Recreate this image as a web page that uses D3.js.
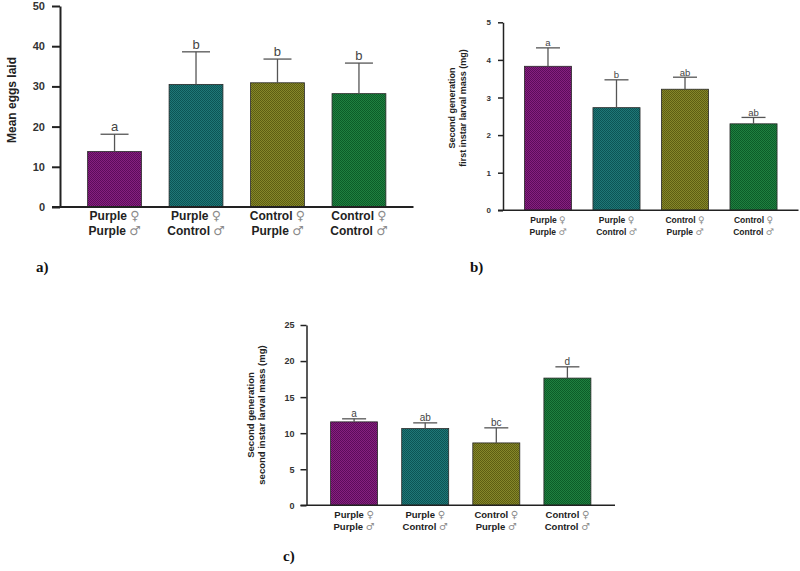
<!DOCTYPE html>
<html><head><meta charset="utf-8">
<script src="https://cdn.jsdelivr.net/npm/d3@7/dist/d3.min.js"></script>
<style>body{margin:0;background:#fff}svg{display:block}</style>
</head><body>
<svg id="c" width="800" height="571"></svg>
<script>
const femaleLabels = ["Purple", "Purple", "Control", "Control"];
const maleLabels = ["Purple", "Control", "Purple", "Control"];
const groups = ["PP", "PC", "CP", "CC"];
const eggsMean = [13.8, 30.5, 30.9, 28.2];
const eggsErr = [4.3, 8.1, 5.9, 7.6];
const eggsLetters = ["a", "b", "b", "b"];
const firstMean = [3.83, 2.73, 3.22, 2.30];
const firstErr = [0.49, 0.74, 0.32, 0.17];
const firstLetters = ["a", "b", "ab", "ab"];
const secondMean = [11.57, 10.64, 8.65, 17.64];
const secondErr = [0.42, 0.79, 2.09, 1.56];
const secondLetters = ["a", "ab", "bc", "d"];
const eggsTicks = [0, 10, 20, 30, 40, 50];
const firstTicks = [0, 1, 2, 3, 4, 5];
const secondTicks = [0, 5, 10, 15, 20, 25];

const colors = [["#86207f","#5c0c5a"],["#1f7777","#0c5454"],["#86872a","#5d5e12"],["#1f8040","#0c5c28"]];

const svg = d3.select("#c");
const defs = svg.append("defs");
colors.forEach((c,i)=>{
  const p = defs.append("pattern").attr("id","pat"+i).attr("width",2).attr("height",2).attr("patternUnits","userSpaceOnUse");
  p.append("rect").attr("width",2).attr("height",2).attr("fill",c[0]);
  p.append("rect").attr("width",1).attr("height",1).attr("fill",c[1]);
  p.append("rect").attr("x",1).attr("y",1).attr("width",1).attr("height",1).attr("fill",c[1]);
});

function panel(o){
  const g = svg.append("g");
  const x = d3.scaleBand().domain(groups).range([o.x0, o.x1]).paddingInner(o.pad).paddingOuter(o.pad);
  const y = d3.scaleLinear().domain([0, o.ticks[o.ticks.length-1]]).range([o.y0, o.y1]);
  g.selectAll("rect.bar").data(o.mean).enter().append("rect")
    .attr("x",(d,i)=>x(groups[i])).attr("width",x.bandwidth())
    .attr("y",d=>y(d)).attr("height",d=>y(0)-y(d))
    .attr("fill",(d,i)=>`url(#pat${i})`).attr("stroke","#2a2a2a").attr("stroke-width",0.8);
  o.mean.forEach((m,i)=>{
    const cx = x(groups[i]) + x.bandwidth()/2;
    const top = y(m + o.err[i]);
    g.append("line").attr("x1",cx).attr("x2",cx).attr("y1",y(m)).attr("y2",top).attr("stroke","#555").attr("stroke-width",1.3);
    g.append("line").attr("x1",cx-o.cap/2).attr("x2",cx+o.cap/2).attr("y1",top).attr("y2",top).attr("stroke","#555").attr("stroke-width",1.3);
    g.append("text").attr("x",cx).attr("y",top-o.letterGap).attr("text-anchor","middle")
      .attr("font-family","Liberation Sans, Arial, sans-serif").attr("font-size",o.letterSize).attr("fill","#444").text(o.letters[i]);
  });
  const ax = g.append("g").attr("transform",`translate(${o.x0},0)`)
    .call(d3.axisLeft(y).tickValues(o.ticks).tickFormat(d3.format("d")).tickSize(o.tick).tickPadding(o.tickPad).tickSizeOuter(0));
  ax.select(".domain").attr("stroke","#222").attr("stroke-width",o.axisW);
  ax.selectAll(".tick line").attr("stroke","#222").attr("stroke-width",o.axisW);
  ax.selectAll(".tick text").attr("font-family","Liberation Sans, Arial, sans-serif").attr("font-weight","bold")
    .attr("font-size",o.tickSize).attr("fill","#333");
  g.append("line").attr("x1",o.x0-o.tick).attr("x2",o.x1).attr("y1",y(0)).attr("y2",y(0)).attr("stroke","#222").attr("stroke-width",o.axisW);
  groups.forEach((gr,i)=>{
    const cx = x(gr) + x.bandwidth()/2;
    [[femaleLabels[i],"\u2640",o.lab1],[maleLabels[i],"\u2642",o.lab2]].forEach(([w,s,yy])=>{
      const t = g.append("text").attr("x",cx).attr("y",yy).attr("text-anchor","middle")
        .attr("font-family","Liberation Sans, Arial, sans-serif").attr("font-size",o.labSize).attr("fill","#222");
      t.append("tspan").attr("font-weight","bold").text(w+" ");
      t.append("tspan").attr("fill","#8a8a8a").attr("font-family","DejaVu Sans, sans-serif").attr("font-size",o.labSize*1.05).text(s);
    });
  });
  const yl = g.append("text").attr("transform",`translate(${o.ylx},${o.yly}) rotate(-90)`).attr("text-anchor","middle")
    .attr("font-family","Liberation Sans, Arial, sans-serif").attr("font-size",o.ylSize).attr("font-weight","bold").attr("fill","#222");
  o.ylab.forEach((l,k)=>yl.append("tspan").attr("x",0).attr("dy",k===0?0:o.ylSize*1.2).text(l));
  g.append("text").attr("x",o.px).attr("y",o.py).attr("font-family","Liberation Serif, Times New Roman, serif")
    .attr("font-weight","bold").attr("font-size",15).attr("fill","#111").text(o.plabel);
}

panel({x0:60,x1:413.5,pad:0.339,y0:207,y1:6,ticks:eggsTicks,mean:eggsMean,err:eggsErr,letters:eggsLetters,
  cap:28,letterGap:3,letterSize:13,tick:8,tickPad:7,axisW:2,tickSize:11,lab1:220,lab2:235,labSize:12,
  ylab:["Mean eggs laid"],ylx:16,yly:100,ylSize:12,px:36,py:272,plabel:"a)"});
panel({x0:503,x1:798.5,pad:0.313,y0:210.3,y1:22.3,ticks:firstTicks,mean:firstMean,err:firstErr,letters:firstLetters,
  cap:24,letterGap:1.5,letterSize:9.5,tick:5,tickPad:7,axisW:1.5,tickSize:8,lab1:223,lab2:235,labSize:8.5,
  ylab:["Second generation","first instar larval mass (mg)"],ylx:455,yly:108,ylSize:9,px:470,py:272,plabel:"b)"});
panel({x0:306.5,x1:615,pad:0.339,y0:505.3,y1:325,ticks:secondTicks,mean:secondMean,err:secondErr,letters:secondLetters,
  cap:24,letterGap:2,letterSize:10,tick:6,tickPad:6,axisW:1.5,tickSize:9,lab1:517.5,lab2:530,labSize:9.5,
  ylab:["Second generation","second instar larval mass (mg)"],ylx:254,yly:415,ylSize:9.5,px:283,py:561,plabel:"c)"});
</script>
</body></html>
